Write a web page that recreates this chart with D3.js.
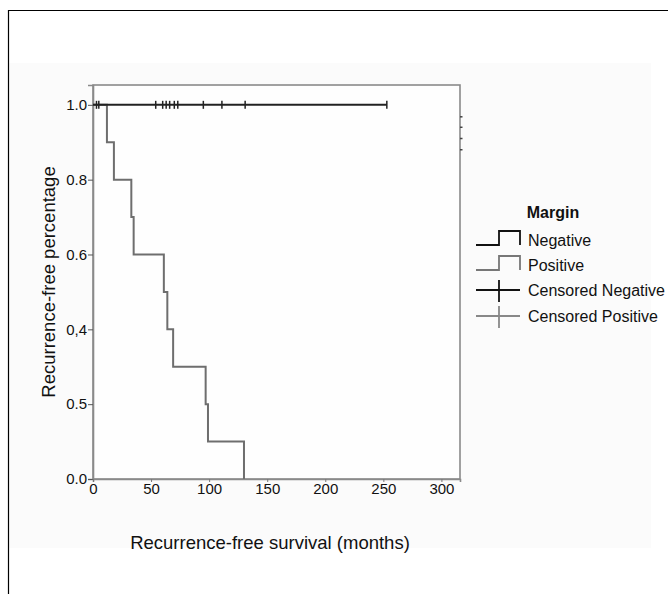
<!DOCTYPE html>
<html lang="en">
<head>
<meta charset="utf-8">
<title>Recurrence-free survival</title>
<script src="https://d3js.org/d3.v7.min.js"></script>
<style>
body { margin: 0; background: #fff; }
text { font-family: "Liberation Sans", Arial, sans-serif; fill: #111; }
</style>
</head>
<body>
<div id="container"></div>
<script>
// data
var yTicks = [1.0, 0.8, 0.6, 0.4, 0.2, 0.0];
var yTickLabels = ["1.0", "0.8", "0.6", "0,4", "0.5", "0.0"];
var xTicks = [0, 50, 100, 150, 200, 250, 300];

// positive margin: event times (months) and survival after each event
var posTimes = [12, 18, 33, 35, 61, 64, 69, 97, 99, 130];
var posSurv  = [0.9, 0.8, 0.7, 0.6, 0.5, 0.4, 0.3, 0.2, 0.1, 0.0];

// negative margin: no events, censored times
var negEnd = 253;
var negCensored = [3, 5, 54, 60, 63, 66, 70, 73, 95, 111, 131, 253];

// little marks sitting on the right edge of the frame
var edgeMarks = [0.968, 0.94, 0.91, 0.88];

var legendItems = ["Negative", "Positive", "Censored Negative", "Censored Positive"];

var w = 668, h = 594;
var svg = d3.select("#container").append("svg")
    .attr("width", w).attr("height", h);

svg.append("rect").attr("x", 9).attr("y", 63).attr("width", 642).attr("height", 485)
    .attr("fill", "#fbfbfb");

// outer frame (cut at right/bottom)
svg.append("path")
    .attr("d", "M8.5," + h + "V10.5H" + w)
    .attr("fill", "none").attr("stroke", "#000").attr("stroke-width", 1.2);

var x = d3.scaleLinear().domain([0, 316]).range([93, 460]);
var y = d3.scaleLinear().domain([0, 1.053]).range([479, 85]);

// plot frame
svg.append("rect")
    .attr("x", x(0)).attr("y", y(1.053))
    .attr("width", x(316) - x(0)).attr("height", y(0) - y(1.053))
    .attr("fill", "#fefefe").attr("stroke", "#8a8a8a").attr("stroke-width", 1.6);

// axes
var yAxis = d3.axisLeft(y).tickValues(yTicks).tickSize(5)
    .tickFormat(function(d, i) { return yTickLabels[i]; });
var gy = svg.append("g").attr("transform", "translate(" + x(0) + ",0)").call(yAxis);
gy.select(".domain").attr("stroke", "#8a8a8a").attr("stroke-width", 1.6);
gy.selectAll(".tick line").attr("stroke", "#555");
gy.selectAll(".tick text").attr("font-size", 15).attr("x", -6);

var xAxis = d3.axisBottom(x).tickValues(xTicks).tickSize(3);
var gx = svg.append("g").attr("transform", "translate(0," + y(0) + ")").call(xAxis);
gx.select(".domain").attr("stroke", "#8a8a8a").attr("stroke-width", 1.6);
gx.selectAll(".tick line").attr("stroke", "#777");
gx.selectAll(".tick text").attr("font-size", 15).attr("y", 4);
gx.selectAll("text").attr("font-family", "'Liberation Sans', Arial, sans-serif");
gy.selectAll("text").attr("font-family", "'Liberation Sans', Arial, sans-serif");

// titles
svg.append("text").attr("x", 270).attr("y", 549).attr("text-anchor", "middle")
    .attr("font-size", 18.5).text("Recurrence-free survival (months)");
svg.append("text").attr("transform", "translate(55,282) rotate(-90)")
    .attr("text-anchor", "middle").attr("font-size", 18.5).text("Recurrence-free percentage");

// step curves
function stepPoints(times, surv, end) {
    var pts = [[0, 1]];
    var s = 1;
    times.forEach(function(t, i) {
        pts.push([t, s]);
        s = surv[i];
        pts.push([t, s]);
    });
    if (end !== undefined) pts.push([end, s]);
    return pts;
}
var line = d3.line().x(function(d) { return x(d[0]); }).y(function(d) { return y(d[1]); });

svg.append("path").datum(stepPoints(posTimes, posSurv))
    .attr("d", line).attr("fill", "none").attr("stroke", "#6e6e6e").attr("stroke-width", 2);

svg.append("path").datum([[0, 1], [negEnd, 1]])
    .attr("d", line).attr("fill", "none").attr("stroke", "#222").attr("stroke-width", 2);

svg.append("g").selectAll("line").data(negCensored).enter().append("line")
    .attr("x1", function(d) { return x(d); }).attr("x2", function(d) { return x(d); })
    .attr("y1", y(1) - 4).attr("y2", y(1) + 4)
    .attr("stroke", "#222").attr("stroke-width", 1.5);

svg.append("g").selectAll("line").data(edgeMarks).enter().append("line")
    .attr("x1", x(316)).attr("x2", x(316) + 2.5)
    .attr("y1", function(d) { return y(d); }).attr("y2", function(d) { return y(d); })
    .attr("stroke", "#444").attr("stroke-width", 1.5);

// legend
var lg = svg.append("g");
lg.append("text").attr("x", 553).attr("y", 218).attr("text-anchor", "middle")
    .attr("font-size", 16).attr("font-weight", "bold").text("Margin");
var rowY = [240, 265, 290, 316];
var rowColor = ["#111", "#777", "#111", "#888"];
legendItems.forEach(function(name, i) {
    var cy = rowY[i];
    if (i < 2) {
        lg.append("path")
            .attr("d", "M476," + (cy + 5) + "H499V" + (cy - 9) + "H520V" + (cy + 5))
            .attr("fill", "none").attr("stroke", rowColor[i]).attr("stroke-width", 1.8);
    } else {
        lg.append("line").attr("x1", 476).attr("x2", 520).attr("y1", cy).attr("y2", cy)
            .attr("stroke", rowColor[i]).attr("stroke-width", 1.8);
        lg.append("line").attr("x1", 499).attr("x2", 499).attr("y1", cy - 10).attr("y2", cy + 12)
            .attr("stroke", rowColor[i]).attr("stroke-width", 1.8);
    }
    lg.append("text").attr("x", 528).attr("y", cy + 5.5).attr("font-size", 16).text(name);
});
</script>
</body>
</html>
